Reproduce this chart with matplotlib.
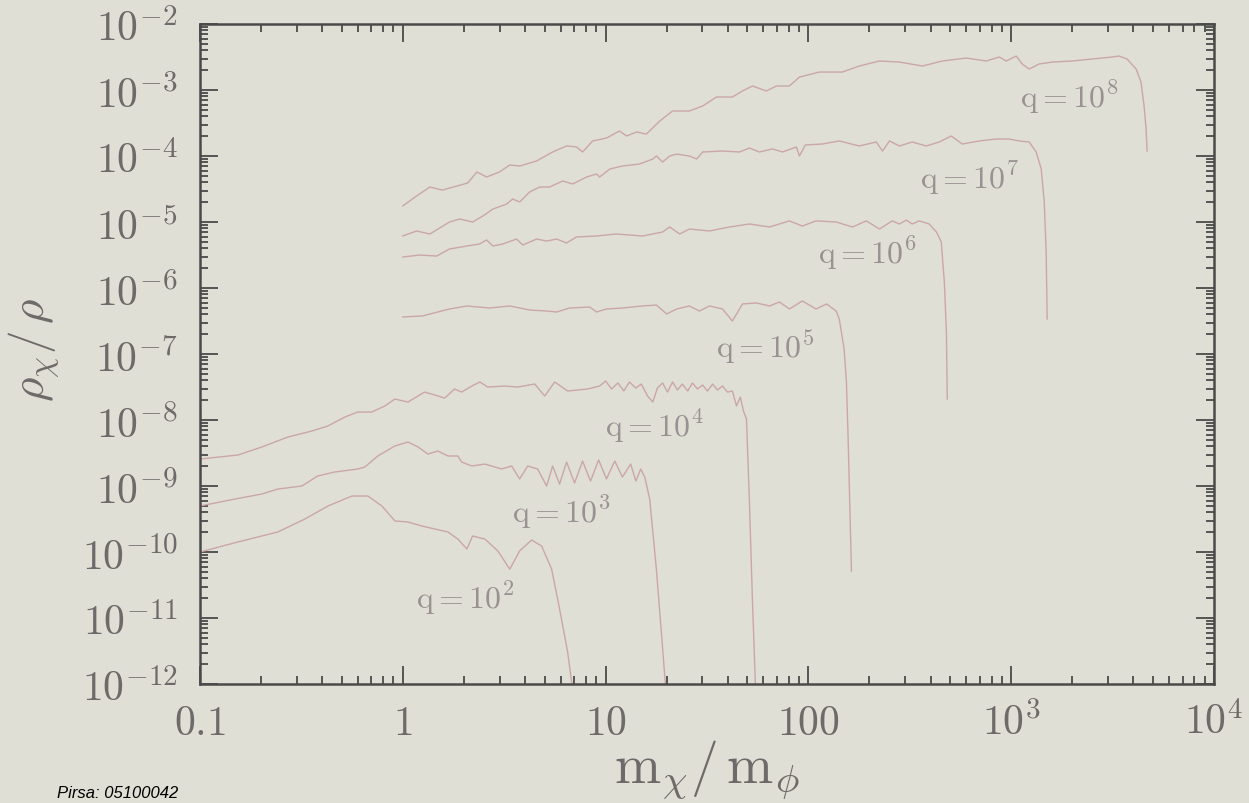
import matplotlib
matplotlib.use("Agg")
import matplotlib.pyplot as plt
from matplotlib.ticker import LogLocator, NullFormatter

# curves (x = m_chi/m_phi, y = rho_chi/rho)
q2_x = [0.1, 0.154, 0.242, 0.329, 0.428, 0.561, 0.673, 0.789, 0.915, 1.06, 1.24, 1.44, 1.67,
        1.87, 2.07, 2.21, 2.54, 2.94, 3.37, 3.77, 4.32, 4.84, 5.42, 5.93, 6.50, 6.87]
q2_y = [1.0e-10, 1.42e-10, 2.01e-10, 3.16e-10, 4.98e-10, 7.05e-10, 7.05e-10, 4.98e-10, 2.95e-10,
        2.85e-10, 2.48e-10, 2.23e-10, 2.01e-10, 1.57e-10, 1.11e-10, 1.75e-10, 1.57e-10, 1.04e-10,
        5.5e-11, 1.04e-10, 1.52e-10, 1.23e-10, 5.5e-11, 1.37e-11, 3.05e-12, 8.4e-13]

q3_x = [0.1, 0.149, 0.202, 0.242, 0.318, 0.381, 0.462, 0.600, 0.650, 0.753, 0.914, 1.06, 1.19,
        1.33, 1.49, 1.67, 1.87, 1.95, 2.19, 2.54, 3.07, 3.44, 3.77, 4.13, 4.62, 5.12, 5.48, 5.93,
        6.42, 7.03, 7.70, 8.43, 9.24, 10.1, 11.1, 12.1, 13.3, 14.1, 14.9, 15.6, 16.5, 17.8, 18.9, 19.8]
q3_y = [4.98e-10, 6.35e-10, 7.57e-10, 9.0e-10, 1.0e-9, 1.42e-9, 1.63e-9, 1.81e-9, 1.94e-9, 2.85e-9,
        4.04e-9, 4.64e-9, 3.90e-9, 3.05e-9, 3.39e-9, 2.85e-9, 2.85e-9, 2.31e-9, 2.01e-9, 2.15e-9,
        1.81e-9, 2.01e-9, 1.28e-9, 2.01e-9, 1.81e-9, 1.0e-9, 2.01e-9, 1.07e-9, 2.31e-9, 1.11e-9,
        2.39e-9, 1.19e-9, 2.48e-9, 1.28e-9, 2.39e-9, 1.37e-9, 2.15e-9, 1.19e-9, 1.81e-9, 1.37e-9,
        6.35e-10, 5.52e-11, 5.33e-12, 8.4e-13]

q4_x = [0.1, 0.154, 0.202, 0.271, 0.356, 0.427, 0.518, 0.600, 0.703, 0.815, 0.914, 1.06, 1.28,
        1.44, 1.61, 1.80, 1.95, 2.19, 2.40, 2.62, 3.18, 3.69, 4.47, 5.01, 5.61, 6.50, 8.15, 9.34,
        10.0, 10.7, 11.5, 12.3, 13.1, 14.1, 15.0, 16.1, 17.1, 18.0, 19.1, 20.2, 21.4, 22.6, 23.9,
        25.4, 26.8, 28.4, 30.1, 31.8, 33.7, 35.6, 37.7, 39.9, 42.2, 44.2, 46.2, 47.8, 49.5, 51.2,
        53.0, 54.8]
q4_y = [2.56e-9, 2.95e-9, 3.90e-9, 5.52e-9, 6.81e-9, 8.11e-9, 1.11e-8, 1.32e-8, 1.32e-8, 1.63e-8,
        2.08e-8, 1.87e-8, 2.65e-8, 2.39e-8, 2.15e-8, 2.95e-8, 2.65e-8, 3.27e-8, 3.77e-8, 3.16e-8,
        3.27e-8, 3.16e-8, 3.51e-8, 2.31e-8, 3.77e-8, 2.75e-8, 2.95e-8, 3.27e-8, 3.90e-8, 2.95e-8,
        3.64e-8, 2.75e-8, 3.77e-8, 3.05e-8, 3.51e-8, 2.31e-8, 1.87e-8, 3.05e-8, 3.64e-8, 2.65e-8,
        3.77e-8, 2.85e-8, 3.51e-8, 2.75e-8, 3.64e-8, 2.95e-8, 3.39e-8, 2.75e-8, 3.51e-8, 2.85e-8,
        3.27e-8, 2.65e-8, 2.75e-8, 1.63e-8, 2.23e-8, 1.37e-8, 1.04e-8, 5.73e-10, 1.75e-11, 9.7e-13]

q5_x = [1.0, 1.25, 1.70, 2.07, 2.68, 3.37, 4.22, 5.12, 5.74, 6.65, 8.34, 9.03, 10.1, 12.1, 15.2,
        17.8, 20.0, 22.4, 25.9, 29.0, 32.5, 37.7, 42.2, 47.3, 55.4, 64.3, 72.0, 80.6, 93.4, 109,
        123, 137, 142, 150, 154, 157, 163]
q5_y = [3.64e-7, 3.77e-7, 4.81e-7, 5.34e-7, 4.98e-7, 5.34e-7, 4.64e-7, 4.48e-7, 4.33e-7, 4.98e-7,
        5.15e-7, 4.33e-7, 4.81e-7, 4.98e-7, 5.34e-7, 5.52e-7, 4.04e-7, 4.81e-7, 5.34e-7, 4.48e-7,
        5.34e-7, 4.81e-7, 3.16e-7, 5.73e-7, 5.93e-7, 5.34e-7, 6.14e-7, 4.81e-7, 6.36e-7, 4.81e-7,
        5.73e-7, 4.48e-7, 3.39e-7, 1.19e-7, 3.77e-8, 5.15e-9, 5.15e-11]

q6_x = [1.0, 1.21, 1.47, 1.70, 2.07, 2.39, 2.59, 2.78, 3.11, 3.64, 3.90, 4.57, 5.12, 5.74, 6.42,
        7.19, 9.03, 11.3, 15.2, 19.1, 20.7, 23.2, 25.9, 32.5, 40.8, 51.2, 64.3, 80.6, 93.4, 109,
        137, 165, 193, 224, 259, 281, 304, 325, 352, 394, 428, 452, 468, 479, 484]
q6_y = [2.95e-6, 3.16e-6, 3.05e-6, 3.90e-6, 4.33e-6, 4.64e-6, 5.34e-6, 4.33e-6, 4.64e-6, 5.52e-6,
        4.48e-6, 5.52e-6, 5.15e-6, 5.52e-6, 4.81e-6, 5.93e-6, 6.14e-6, 6.58e-6, 6.14e-6, 7.05e-6,
        8.40e-6, 6.58e-6, 7.83e-6, 7.31e-6, 8.40e-6, 9.33e-6, 8.40e-6, 1.04e-5, 8.69e-6, 1.04e-5,
        1.0e-5, 8.40e-6, 1.04e-5, 7.83e-6, 1.04e-5, 9.33e-6, 1.07e-5, 9.33e-6, 1.04e-5, 9.33e-6,
        7.05e-6, 4.98e-6, 1.23e-6, 2.15e-7, 2.08e-8]

q7_x = [1.0, 1.17, 1.36, 1.70, 1.91, 2.21, 2.48, 2.78, 3.25, 3.48, 3.77, 4.22, 4.73, 5.30, 6.14,
        6.88, 8.06, 9.03, 9.34, 10.5, 12.1, 14.7, 17.1, 17.8, 19.1, 20.7, 22.4, 25.9, 28.1, 30.1,
        37.7, 45.7, 51.2, 57.4, 66.5, 74.5, 87.3, 90.3, 96.6, 117, 142, 178, 216, 232, 251, 281,
        325, 381, 442, 506, 574, 695, 843, 977, 1094, 1227, 1327, 1406, 1455, 1487, 1504]
q7_y = [6.14e-6, 7.31e-6, 6.58e-6, 1.0e-5, 1.11e-5, 1.0e-5, 1.23e-5, 1.57e-5, 1.87e-5, 2.23e-5,
        2.01e-5, 2.85e-5, 3.39e-5, 3.39e-5, 4.18e-5, 3.77e-5, 4.81e-5, 5.34e-5, 4.81e-5, 6.36e-5,
        7.05e-5, 7.56e-5, 9.01e-5, 1.0e-4, 8.11e-5, 1.0e-4, 1.07e-4, 1.0e-4, 9.01e-5, 1.15e-4,
        1.19e-4, 1.15e-4, 1.32e-4, 1.15e-4, 1.28e-4, 1.15e-4, 1.37e-4, 1.0e-4, 1.47e-4, 1.52e-4,
        1.69e-4, 1.42e-4, 1.63e-4, 1.19e-4, 1.69e-4, 1.42e-4, 1.63e-4, 1.42e-4, 1.63e-4, 2.01e-4,
        1.52e-4, 1.69e-4, 1.81e-4, 1.81e-4, 1.69e-4, 1.63e-4, 1.15e-4, 6.36e-5, 2.01e-5, 3.51e-6,
        3.39e-7]

q8_x = [1.0, 1.17, 1.36, 1.57, 1.85, 2.09, 2.32, 2.59, 3.00, 3.37, 3.77, 4.57, 5.48, 6.42, 7.19,
        7.70, 8.63, 10.1, 11.7, 12.7, 14.2, 15.9, 18.5, 21.4, 25.9, 30.1, 35.2, 42.2, 47.3, 53.0,
        62.1, 69.5, 80.6, 90.3, 113, 147, 178, 224, 281, 365, 457, 600, 753, 873, 945, 1059, 1133,
        1227, 1374, 1592, 1995, 2505, 3145, 3404, 3724, 4130, 4365, 4519, 4624, 4677]
q8_y = [1.75e-5, 2.48e-5, 3.39e-5, 3.05e-5, 3.51e-5, 3.90e-5, 5.73e-5, 4.81e-5, 5.73e-5, 7.31e-5,
        7.05e-5, 8.40e-5, 1.15e-4, 1.42e-4, 1.37e-4, 1.15e-4, 1.69e-4, 1.87e-4, 2.39e-4, 2.01e-4,
        2.31e-4, 2.15e-4, 3.39e-4, 4.81e-4, 4.81e-4, 5.73e-4, 7.83e-4, 7.83e-4, 9.66e-4, 1.15e-3,
        9.66e-4, 1.15e-3, 1.15e-3, 1.57e-3, 1.87e-3, 1.87e-3, 2.31e-3, 2.75e-3, 2.65e-3, 2.31e-3,
        2.75e-3, 3.05e-3, 2.75e-3, 3.16e-3, 2.75e-3, 3.27e-3, 2.48e-3, 2.08e-3, 2.48e-3, 2.65e-3,
        2.75e-3, 2.95e-3, 3.16e-3, 3.27e-3, 2.95e-3, 2.08e-3, 1.32e-3, 5.73e-4, 2.57e-4, 1.19e-4]

curves = [(q2_x, q2_y), (q3_x, q3_y), (q4_x, q4_y), (q5_x, q5_y),
          (q6_x, q6_y), (q7_x, q7_y), (q8_x, q8_y)]
q_exponents = [2, 3, 4, 5, 6, 7, 8]
# where each "q = 10^n" label sits (data coords)
label_pos = [(2.02, 2.08e-11), (6.07, 4.18e-10), (17.4, 8.4e-9), (61.4, 1.28e-7),
             (195, 3.51e-6), (621, 4.81e-5), (1932, 8.1e-4)]

x_ticks = [0.1, 1, 10, 100, 1e3, 1e4]
x_ticklabels = ['$0.1$', '$1$', '$10$', '$100$', '$10^3$', '$10^4$']
y_ticks = [10.0 ** k for k in range(-12, -1)]
y_ticklabels = ['$10^{%d}$' % k for k in range(-12, -1)]

bg = '#dfdfd5'
line_col = '#cba6a9'
text_col = '#6f6a6a'
label_col = '#9a9292'

plt.rcParams['mathtext.fontset'] = 'cm'

fig = plt.figure(figsize=(12.49, 8.04), dpi=100, facecolor=bg)
ax = fig.add_axes([0.1601, 0.1480, 0.8119, 0.8209], facecolor=bg)

for (xs, ys) in curves:
    ax.plot(xs, ys, color=line_col, lw=1.0)

for n, (lx, ly) in zip(q_exponents, label_pos):
    ax.text(lx, ly, r'$\mathrm{q}=10^{%d}$' % n, fontsize=23, color=label_col,
            ha='center', va='center')

ax.set_xscale('log')
ax.set_yscale('log')
ax.set_xlim(0.1, 1e4)
ax.set_ylim(1e-12, 1e-2)

ax.set_xticks(x_ticks)
ax.set_xticklabels(x_ticklabels)
ax.set_yticks(y_ticks)
ax.set_yticklabels(y_ticklabels)
ax.xaxis.set_minor_locator(LogLocator(base=10, subs=range(2, 10), numticks=20))
ax.yaxis.set_minor_locator(LogLocator(base=10, subs=range(2, 10), numticks=20))
ax.xaxis.set_minor_formatter(NullFormatter())
ax.yaxis.set_minor_formatter(NullFormatter())

ax.tick_params(which='both', direction='in', top=True, right=True,
               color='#4a4a4a', width=1.3)
ax.tick_params(which='major', length=13)
ax.tick_params(which='minor', length=6)
ax.tick_params(axis='x', which='major', pad=12, labelsize=30, labelcolor=text_col)
ax.tick_params(axis='y', which='major', pad=16, labelsize=30, labelcolor=text_col)

for sp in ax.spines.values():
    sp.set_color('#4a4a4a')
    sp.set_linewidth(1.8)

fig.text(0.566, 0.042, r'$\mathrm{m}_\chi/\,\mathrm{m}_\phi$', fontsize=40,
         color=text_col, ha='center', va='center')
fig.text(0.028, 0.565, r'$\rho_\chi/\,\rho$', fontsize=34, color=text_col,
         ha='center', va='center', rotation=90)
fig.text(0.046, 0.013, 'Pirsa: 05100042', fontsize=12, style='italic',
         family='Liberation Sans', color='black', ha='left', va='center')

fig.savefig('out.png', dpi=100, facecolor=bg)
